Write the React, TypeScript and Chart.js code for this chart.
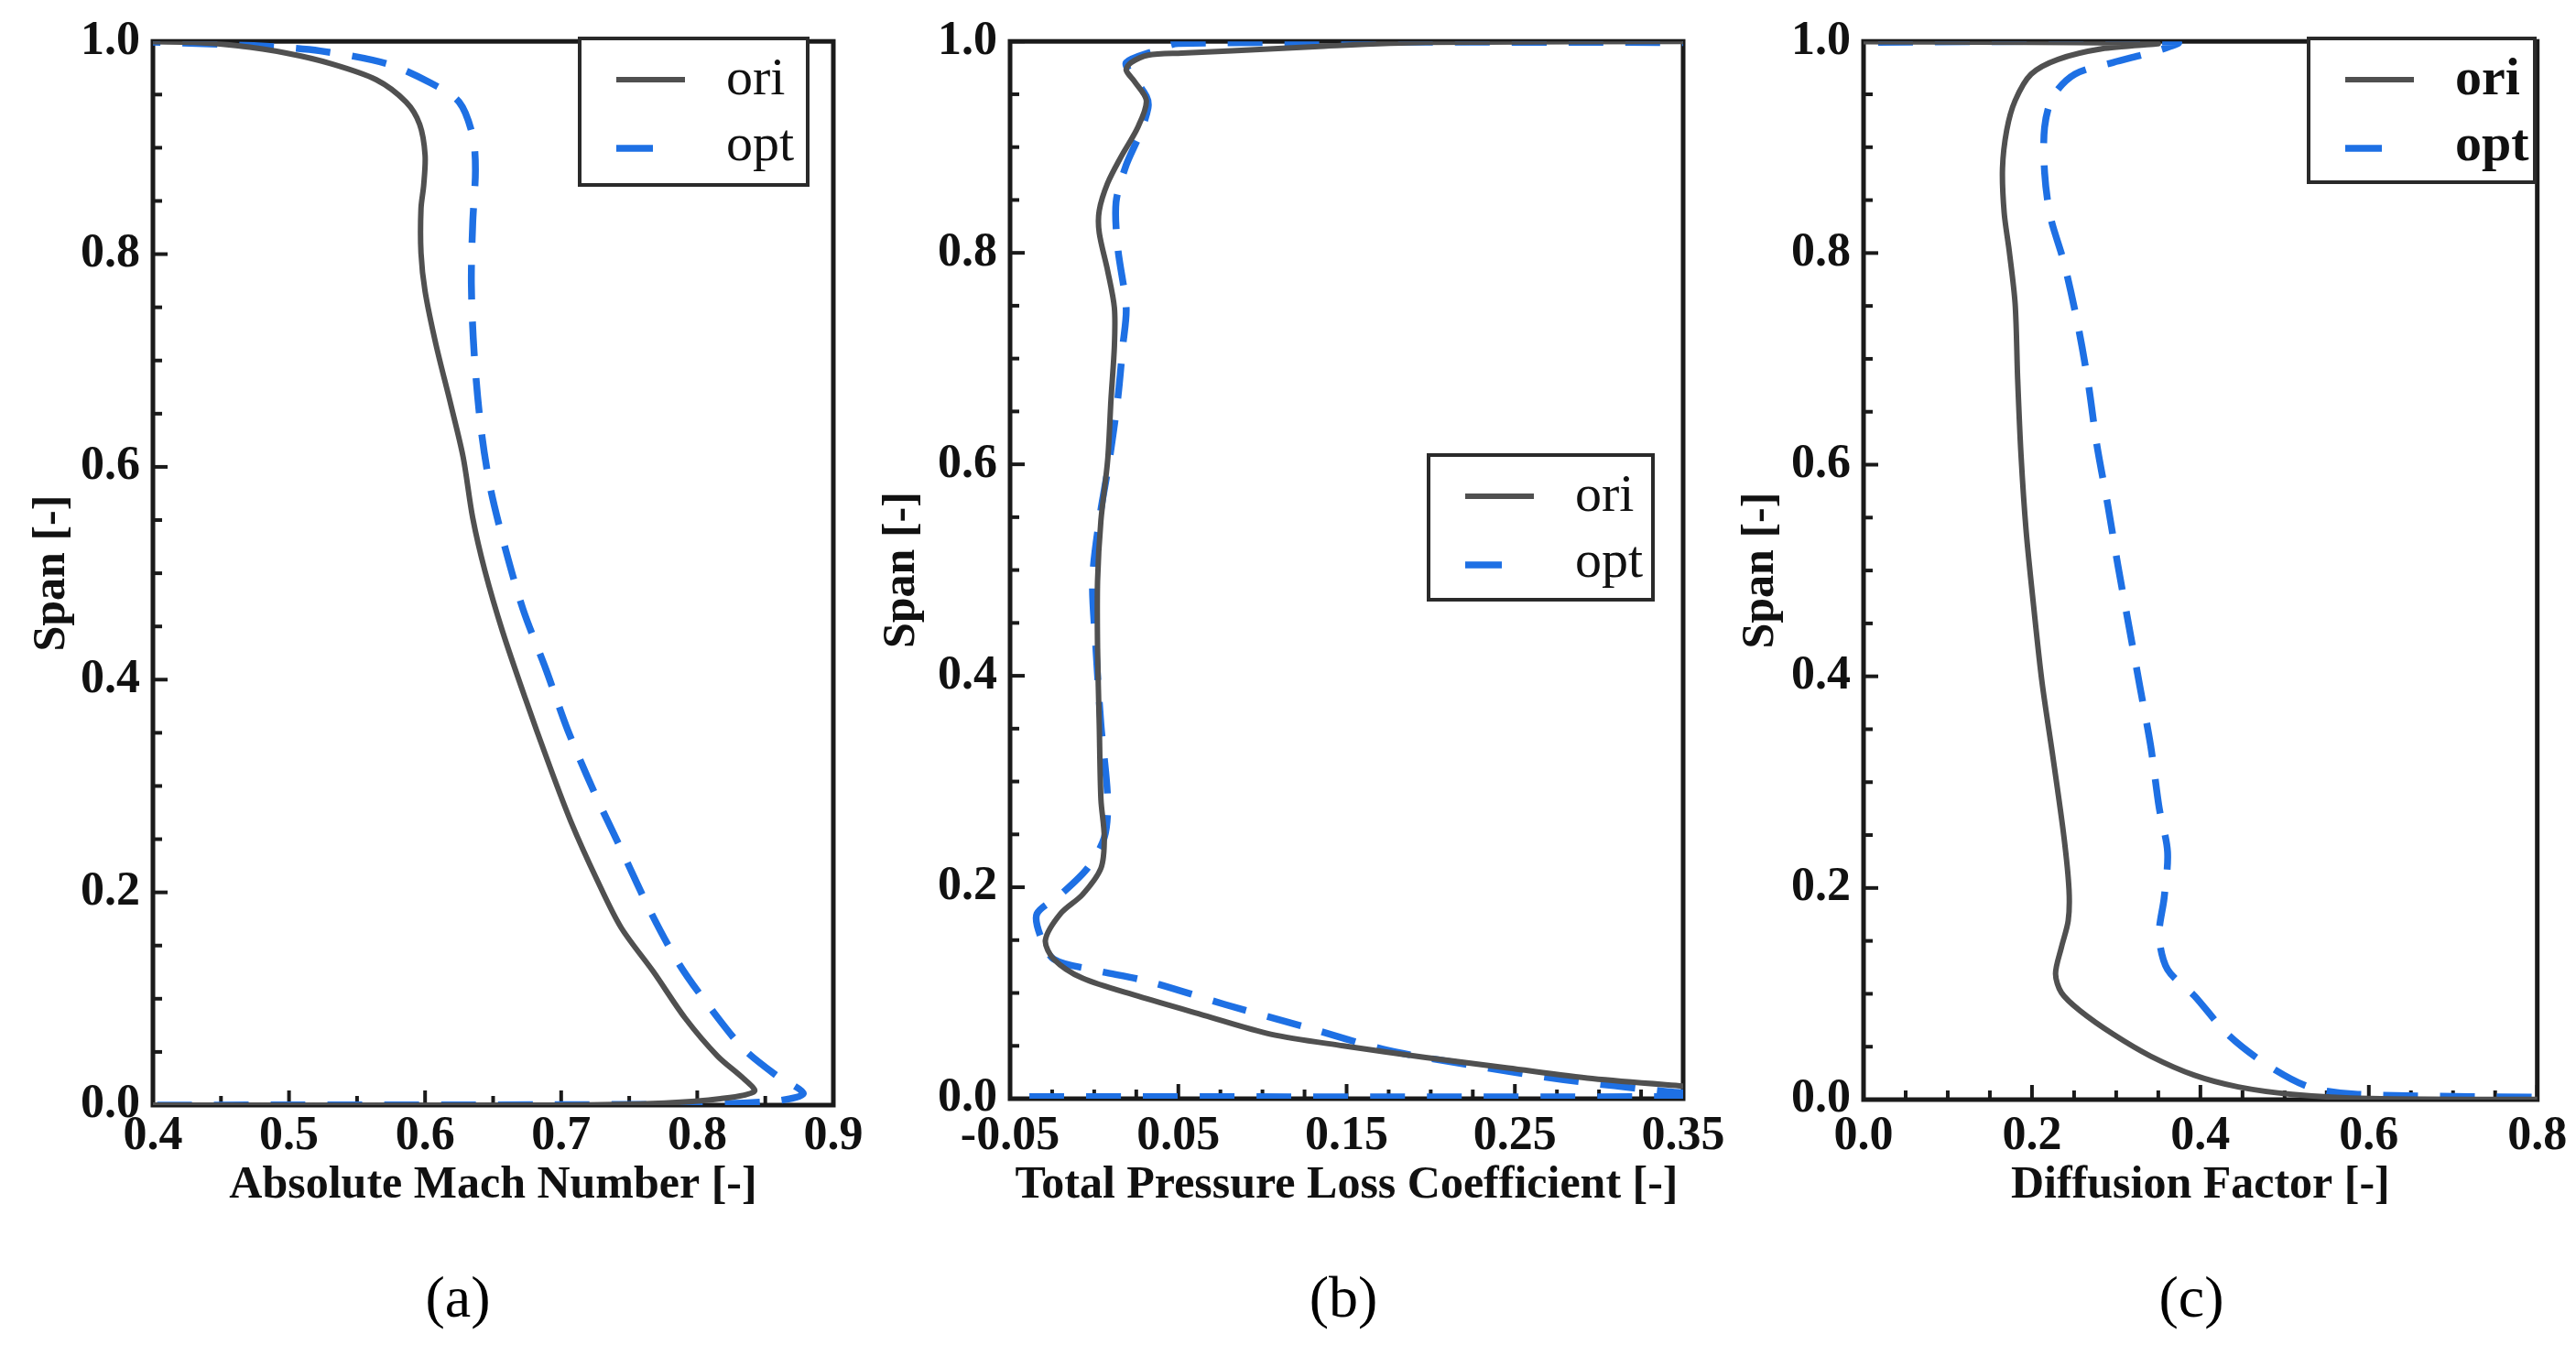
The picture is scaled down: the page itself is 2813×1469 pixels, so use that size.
import React, { useEffect, useRef } from "react";
import { Chart, registerables } from "chart.js";

Chart.register(...registerables);

// ---------------- data ----------------
const seriesNames = ["ori", "opt"];

const spanTicks = [0, 0.2, 0.4, 0.6, 0.8, 1.0];
const spanTickLabels = ["0.0", "0.2", "0.4", "0.6", "0.8", "1.0"];

const machTicks = [0.4, 0.5, 0.6, 0.7, 0.8, 0.9];
const machTickLabels = ["0.4", "0.5", "0.6", "0.7", "0.8", "0.9"];
const lossTicks = [-0.05, 0.05, 0.15, 0.25, 0.35];
const lossTickLabels = ["-0.05", "0.05", "0.15", "0.25", "0.35"];
const dfTicks = [0, 0.2, 0.4, 0.6, 0.8];
const dfTickLabels = ["0.0", "0.2", "0.4", "0.6", "0.8"];

// (a) Absolute Mach number
const machOriX = [0.38, 0.43, 0.461, 0.498, 0.531, 0.564, 0.586, 0.596, 0.6, 0.599, 0.597, 0.597, 0.6, 0.608, 0.619, 0.628, 0.635, 0.644, 0.657, 0.674, 0.69, 0.707, 0.727, 0.744, 0.768, 0.791, 0.815, 0.834, 0.842, 0.817, 0.776, 0.7, 0.38];
const machOriSpan = [1.0, 0.999, 0.996, 0.989, 0.979, 0.964, 0.943, 0.922, 0.893, 0.865, 0.843, 0.801, 0.765, 0.715, 0.658, 0.609, 0.552, 0.502, 0.445, 0.381, 0.324, 0.267, 0.21, 0.167, 0.125, 0.082, 0.046, 0.025, 0.013, 0.006, 0.002, 0.0, 0.0];
const machOptX = [0.38, 0.474, 0.523, 0.572, 0.604, 0.625, 0.635, 0.637, 0.635, 0.634, 0.636, 0.641, 0.648, 0.659, 0.672, 0.689, 0.705, 0.724, 0.745, 0.766, 0.787, 0.811, 0.834, 0.858, 0.878, 0.858, 0.8, 0.38];
const machOptSpan = [1.0, 0.996, 0.991, 0.979, 0.961, 0.943, 0.911, 0.879, 0.829, 0.772, 0.708, 0.637, 0.58, 0.523, 0.466, 0.409, 0.352, 0.295, 0.238, 0.181, 0.132, 0.089, 0.053, 0.028, 0.011, 0.004, 0.001, 0.0];

// (b) Total pressure loss coefficient
const lossOriX = [0.37, 0.197, 0.131, 0.082, 0.052, 0.032, 0.022, 0.019, 0.024, 0.031, 0.026, 0.016, 0.008, 0.003, 0.003, 0.008, 0.012, 0.012, 0.01, 0.008, 0.004, 0.002, 0.002, 0.003, 0.004, 0.006, 0.004, -0.007, -0.02, -0.029, -0.024, -0.007, 0.026, 0.065, 0.105, 0.148, 0.197, 0.246, 0.296, 0.35, 0.37];
const lossOriSpan = [1.0, 0.999, 0.995, 0.991, 0.989, 0.987, 0.98, 0.973, 0.962, 0.944, 0.919, 0.891, 0.866, 0.84, 0.819, 0.783, 0.748, 0.712, 0.662, 0.604, 0.547, 0.49, 0.426, 0.354, 0.283, 0.247, 0.218, 0.193, 0.175, 0.15, 0.132, 0.114, 0.097, 0.079, 0.061, 0.05, 0.039, 0.029, 0.019, 0.012, 0.01];
const lossOptX = [0.37, 0.05, 0.036, 0.019, 0.022, 0.031, 0.032, 0.027, 0.019, 0.013, 0.014, 0.019, 0.017, 0.014, 0.009, 0.003, -0.001, 0.001, 0.004, 0.008, 0.006, -0.004, -0.02, -0.034, -0.032, -0.024, -0.001, 0.032, 0.078, 0.125, 0.174, 0.223, 0.279, 0.339, 0.36, 0.36, -0.06];
const lossOptSpan = [0.999, 0.998, 0.991, 0.98, 0.969, 0.948, 0.937, 0.912, 0.883, 0.848, 0.805, 0.748, 0.712, 0.662, 0.604, 0.547, 0.49, 0.426, 0.354, 0.283, 0.247, 0.218, 0.193, 0.175, 0.154, 0.132, 0.122, 0.111, 0.089, 0.068, 0.046, 0.032, 0.018, 0.007, 0.004, 0.002, 0.002];

// (c) Diffusion factor
const dfOriX = [-0.05, 0.348, 0.283, 0.231, 0.199, 0.18, 0.17, 0.165, 0.167, 0.173, 0.18, 0.183, 0.187, 0.193, 0.202, 0.212, 0.225, 0.238, 0.244, 0.243, 0.235, 0.228, 0.235, 0.257, 0.296, 0.341, 0.393, 0.445, 0.509, 0.6, 0.85];
const dfOriSpan = [1.0, 0.998, 0.993, 0.983, 0.969, 0.944, 0.916, 0.88, 0.838, 0.802, 0.752, 0.681, 0.609, 0.538, 0.466, 0.394, 0.323, 0.248, 0.198, 0.169, 0.144, 0.119, 0.101, 0.084, 0.062, 0.041, 0.023, 0.012, 0.005, 0.001, 0.0];
const dfOptX = [-0.05, 0.373, 0.348, 0.296, 0.251, 0.225, 0.215, 0.215, 0.222, 0.238, 0.254, 0.267, 0.277, 0.29, 0.302, 0.315, 0.328, 0.341, 0.351, 0.361, 0.357, 0.351, 0.361, 0.393, 0.432, 0.477, 0.529, 0.587, 0.85];
const dfOptSpan = [0.999, 0.999, 0.991, 0.98, 0.969, 0.948, 0.919, 0.876, 0.834, 0.791, 0.734, 0.676, 0.619, 0.562, 0.505, 0.448, 0.391, 0.334, 0.276, 0.234, 0.191, 0.155, 0.123, 0.098, 0.062, 0.034, 0.012, 0.005, 0.002];

// ---------------- style / layout ----------------
const W = 2813;
const H = 1469;
const FONT = "'Liberation Serif', 'Times New Roman', serif";
const ORI_COLOR = "#505050";
const OPT_COLOR = "rgb(30,112,228)";
const TEXT = "#111111";
const XAXIS_H = 130;
const TICK_FONT = 52;
const TICK_LH = TICK_FONT * 1.2;
const TITLE_FONT = 50;
const TITLE_LH = TITLE_FONT * 1.2;

type PanelCfg = {
  left: number; width: number; chartLeft: number; chartRight: number; chartBottom: number;
  xMin: number; xMax: number; xTicks: number[]; xLabels: string[]; xMinorStep: number;
  xTitle: string; ori: [number[], number[]]; opt: [number[], number[]];
  legend: { x: number; y: number; w: number; h: number; bold: boolean };
  yTitleCenter: number; caption: string; captionX: number;
};

const panels: PanelCfg[] = [
  {
    left: 0, width: 960, chartLeft: 167, chartRight: 910, chartBottom: 1207,
    xMin: 0.4, xMax: 0.9, xTicks: machTicks, xLabels: machTickLabels, xMinorStep: 0.05,
    xTitle: "Absolute Mach Number [-]", ori: [machOriX, machOriSpan], opt: [machOptX, machOptSpan],
    legend: { x: 633, y: 42, w: 249, h: 160, bold: false }, yTitleCenter: 57, caption: "(a)", captionX: 500,
  },
  {
    left: 930, width: 970, chartLeft: 1103, chartRight: 1838, chartBottom: 1200,
    xMin: -0.05, xMax: 0.35, xTicks: lossTicks, xLabels: lossTickLabels, xMinorStep: 0.025,
    xTitle: "Total Pressure Loss Coefficient [-]", ori: [lossOriX, lossOriSpan], opt: [lossOptX, lossOptSpan],
    legend: { x: 1560, y: 497, w: 245, h: 158, bold: false }, yTitleCenter: 985, caption: "(b)", captionX: 1467,
  },
  {
    left: 1870, width: 943, chartLeft: 2035, chartRight: 2772, chartBottom: 1201,
    xMin: 0, xMax: 0.8, xTicks: dfTicks, xLabels: dfTickLabels, xMinorStep: 0.05,
    xTitle: "Diffusion Factor [-]", ori: [dfOriX, dfOriSpan], opt: [dfOptX, dfOptSpan],
    legend: { x: 2521, y: 42, w: 247, h: 157, bold: true }, yTitleCenter: 1923, caption: "(c)", captionX: 2393,
  },
];

const toPts = (xs: number[], ys: number[]) => xs.map((x, i) => ({ x, y: ys[i] }));

function makeDecor(p: PanelCfg) {
  return {
    id: "decor",
    beforeDatasetsDraw(chart: any) {
      const { ctx, chartArea: ca, scales } = chart;
      const xs = scales.x;
      const ys = scales.y;
      ctx.save();
      ctx.strokeStyle = "#1a1a1a";
      ctx.lineCap = "butt";
      ctx.lineWidth = 4;
      for (let v = 0; v <= 1.0001; v += 0.05) {
        const isMajor = spanTicks.some((t) => Math.abs(t - v) < 1e-6);
        const py = ys.getPixelForValue(v);
        ctx.beginPath();
        ctx.moveTo(ca.left, py);
        ctx.lineTo(ca.left + (isMajor ? 16 : 10), py);
        ctx.stroke();
      }
      for (let v = p.xMin; v <= p.xMax + 1e-6; v += p.xMinorStep) {
        const isMajor = p.xTicks.some((t) => Math.abs(t - v) < 1e-6);
        const px = xs.getPixelForValue(v);
        ctx.beginPath();
        ctx.moveTo(px, ca.bottom);
        ctx.lineTo(px, ca.bottom - (isMajor ? 16 : 10));
        ctx.stroke();
      }
      ctx.lineWidth = 5;
      ctx.strokeRect(ca.left, ca.top, ca.right - ca.left, ca.bottom - ca.top);
      ctx.restore();
    },
    afterDatasetsDraw(chart: any) {
      const { ctx } = chart;
      ctx.save();
      const L = p.legend;
      const lx = L.x - p.left;
      const ly = L.y;
      ctx.fillStyle = "#ffffff";
      ctx.fillRect(lx, ly, L.w, L.h);
      ctx.strokeStyle = "#2a2a2a";
      ctx.lineWidth = 4;
      ctx.strokeRect(lx, ly, L.w, L.h);
      const ds = chart.data.datasets;
      const rows = [
        { line: 45, base: 61, end: 115 },
        { line: 120, base: 133, end: 80 },
      ];
      rows.forEach((r, i) => {
        ctx.strokeStyle = ds[i].borderColor;
        ctx.lineWidth = ds[i].borderWidth;
        ctx.setLineDash([]);
        ctx.beginPath();
        ctx.moveTo(lx + 40, ly + r.line);
        ctx.lineTo(lx + r.end, ly + r.line);
        ctx.stroke();
        ctx.fillStyle = TEXT;
        ctx.font = `${L.bold ? "bold " : ""}58px ${FONT}`;
        ctx.textAlign = "left";
        ctx.textBaseline = "alphabetic";
        ctx.fillText(ds[i].label, lx + 160, ly + r.base);
      });
      ctx.restore();
    },
  };
}

function Panel({ p }: { p: PanelCfg }) {
  const ref = useRef<HTMLCanvasElement | null>(null);
  useEffect(() => {
    if (!ref.current) return;
    const chart = new Chart(ref.current, {
      type: "scatter",
      data: {
        datasets: [
          {
            label: seriesNames[0],
            data: toPts(p.ori[0], p.ori[1]),
            showLine: true,
            borderColor: ORI_COLOR,
            backgroundColor: ORI_COLOR,
            borderWidth: 6,
            pointRadius: 0,
            tension: 0.3,
          },
          {
            label: seriesNames[1],
            data: toPts(p.opt[0], p.opt[1]),
            showLine: true,
            borderColor: OPT_COLOR,
            backgroundColor: OPT_COLOR,
            borderWidth: 7.5,
            borderDash: [38, 24],
            pointRadius: 0,
            tension: 0.3,
          },
        ],
      },
      options: {
        responsive: false,
        animation: false,
        events: [],
        layout: {
          padding: {
            left: 0,
            top: 42,
            right: p.left + p.width - p.chartRight,
            bottom: H - p.chartBottom - XAXIS_H,
          },
        },
        plugins: {
          legend: { display: false },
          tooltip: { enabled: false },
          title: { display: false },
        },
        scales: {
          x: {
            type: "linear",
            position: "bottom",
            min: p.xMin,
            max: p.xMax,
            afterFit: (s: any) => { s.height = XAXIS_H; },
            afterBuildTicks: (s: any) => { s.ticks = p.xTicks.map((v) => ({ value: v })); },
            ticks: {
              autoSkip: false,
              maxRotation: 0,
              padding: 1242 - p.chartBottom - TICK_LH / 2,
              font: { family: FONT, size: TICK_FONT, weight: "bold" },
              color: TEXT,
              callback: (_v: any, i: number) => p.xLabels[i],
            },
            grid: { display: false, drawTicks: false },
            border: { display: false },
            title: {
              display: true,
              text: p.xTitle,
              font: { family: FONT, size: TITLE_FONT, weight: "bold" },
              color: TEXT,
              padding: { top: 0, bottom: p.chartBottom + XAXIS_H - TITLE_LH / 2 - 1295 },
            },
          },
          y: {
            type: "linear",
            position: "left",
            min: 0,
            max: 1,
            afterFit: (s: any) => { s.width = p.chartLeft - p.left; },
            afterBuildTicks: (s: any) => { s.ticks = spanTicks.map((v) => ({ value: v })); },
            ticks: {
              autoSkip: false,
              padding: 14,
              font: { family: FONT, size: TICK_FONT, weight: "bold" },
              color: TEXT,
              callback: (_v: any, i: number) => spanTickLabels[i],
            },
            grid: { display: false, drawTicks: false },
            border: { display: false },
            title: {
              display: true,
              text: "Span [-]",
              font: { family: FONT, size: TITLE_FONT, weight: "bold" },
              color: TEXT,
              padding: { top: p.yTitleCenter - p.left - TITLE_LH / 2, bottom: 0 },
            },
          },
        },
      } as any,
      plugins: [makeDecor(p)],
    });
    return () => chart.destroy();
  }, [p]);
  return (
    <canvas
      ref={ref}
      width={p.width}
      height={H}
      style={{ position: "absolute", left: p.left, top: 0, width: p.width, height: H }}
    />
  );
}

export default function App() {
  return (
    <div style={{ position: "absolute", left: 0, top: 0, width: W, height: H, background: "#ffffff", overflow: "hidden" }}>
      {panels.map((p, i) => (
        <Panel key={i} p={p} />
      ))}
      {panels.map((p, i) => (
        <div
          key={"c" + i}
          style={{
            position: "absolute",
            left: p.captionX,
            top: 1417,
            transform: "translate(-50%, -50%)",
            fontFamily: FONT,
            fontSize: 64,
            lineHeight: 1,
            color: "#000",
            whiteSpace: "nowrap",
          }}
        >
          {p.caption}
        </div>
      ))}
    </div>
  );
}
